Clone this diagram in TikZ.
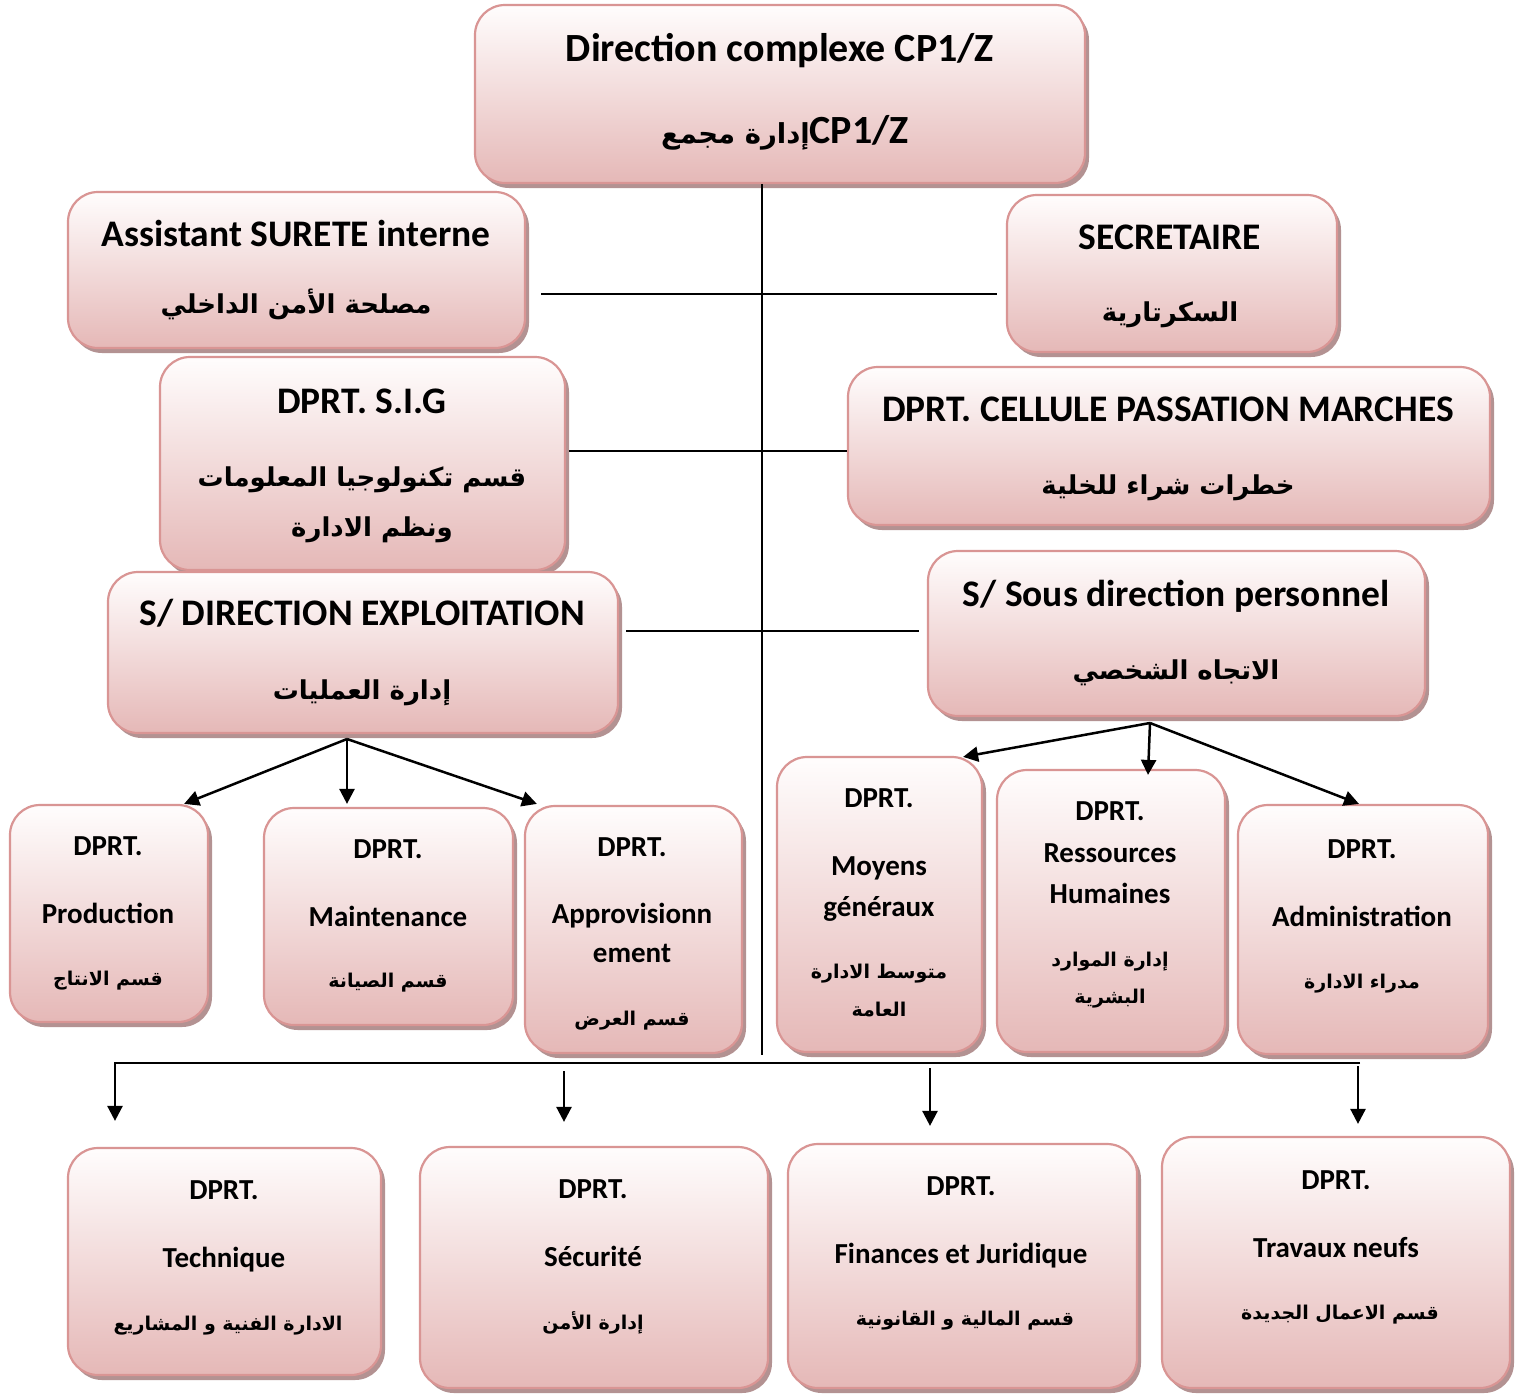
\documentclass[tikz,border=0pt]{standalone}
\usepackage{fontspec}
\setmainfont{Carlito}
\newfontfamily\arabicfont[Script=Arabic]{DejaVu Sans}
\TeXXeTstate=1
\usetikzlibrary{arrows.meta,shadows,calc}

\definecolor{boxline}{HTML}{D99594}
\definecolor{boxtop}{HTML}{FFFDFD}
\definecolor{boxbot}{HTML}{E5B8B7}
\definecolor{boxshadow}{HTML}{B39292}

\tikzset{
  box/.style={draw=boxline, line width=2.2pt, rounded corners=30pt,
    top color=boxtop, bottom color=boxbot, inner sep=0pt,
    drop shadow={shadow xshift=4pt, shadow yshift=-5pt, fill=boxshadow, opacity=1}},
  big/.style={font=\fontsize{37.5}{45}\selectfont\bfseries, anchor=mid, inner sep=0pt, yshift=-9pt},
  huge/.style={font=\fontsize{40}{48}\selectfont\bfseries, anchor=mid, inner sep=0pt, yshift=-9pt},
  small/.style={font=\fontsize{29}{35}\selectfont\bfseries, anchor=mid, inner sep=0pt, yshift=-8pt},
  arbig/.style={font=\fontsize{26}{31}\selectfont\bfseries\arabicfont, anchor=mid, inner sep=0pt, yshift=-9pt},
  arsmall/.style={font=\fontsize{19}{23}\selectfont\bfseries\arabicfont, anchor=mid, inner sep=0pt, yshift=-6pt},
  link/.style={line width=2.5pt},
  arr/.style={line width=2.5pt, -{Triangle[length=15pt,width=15pt]}}
}

\begin{document}
\begin{tikzpicture}[x=1pt, y=-1pt]
\useasboundingbox (0,0) rectangle (1521,1393);
\fill[white] (0,0) rectangle (1521,1393);

% ---------- boxes ----------
\node[box, minimum width=610, minimum height=178] (top)   at (780,94) {};
\node[box, minimum width=457, minimum height=156] (asst)  at (296.5,270) {};
\node[box, minimum width=330, minimum height=157] (sec)   at (1172,273.5) {};
\node[box, minimum width=405, minimum height=213] (sig)   at (362.5,463.5) {};
\node[box, minimum width=642, minimum height=158] (cell)  at (1169,446) {};
\node[box, minimum width=510, minimum height=161] (expl)  at (363,652.5) {};
\node[box, minimum width=497, minimum height=165] (pers)  at (1176.5,633.5) {};
\node[box, minimum width=198, minimum height=217] (prod)  at (109,913.5) {};
\node[box, minimum width=249, minimum height=217] (maint) at (388.5,916.5) {};
\node[box, minimum width=217, minimum height=247] (appro) at (633.5,929.5) {};
\node[box, minimum width=205, minimum height=295] (moy)   at (879.5,904.5) {};
\node[box, minimum width=228, minimum height=282] (rh)    at (1111,911) {};
\node[box, minimum width=250, minimum height=249] (adm)   at (1363,929.5) {};
\node[box, minimum width=313, minimum height=227] (tech)  at (224.5,1261.5) {};
\node[box, minimum width=348, minimum height=241] (secu)  at (594,1267.5) {};
\node[box, minimum width=349, minimum height=244] (fin)   at (962.5,1266) {};
\node[box, minimum width=348, minimum height=251] (trav)  at (1336,1262.5) {};

% ---------- texts ----------
\node[huge] (topA) at (780,50) {Direction complexe CP1/Z};
\node[huge] (topB) at (785,132) {{\fontsize{27.5}{33}\selectfont\arabicfont\beginR إدارة مجمع\endR}CP1/Z};

\node[big] (asstA) at (296,235) {Assistant SURETE interne};
\node[arbig] (asstB) at (296,302) {\beginR مصلحة الأمن الداخلي\endR};

\node[big] (secA) at (1170,238) {SECRETAIRE};
\node[arbig] (secB) at (1170,310) {\beginR السكرتارية\endR};

\node[big] (sigA) at (362,402) {DPRT. S.I.G};
\node[arbig] (sigB) at (362,475) {\beginR قسم تكنولوجيا المعلومات\endR};
\node[arbig] (sigC) at (372,525) {\beginR ونظم الادارة\endR};

\node[big] (cellA) at (1168,410) {DPRT. CELLULE PASSATION MARCHES};
\node[arbig] (cellB) at (1168,483) {\beginR خطرات شراء للخلية\endR};

\node[big] (explA) at (362,614) {S/ DIRECTION EXPLOITATION};
\node[arbig] (explB) at (362,688) {\beginR إدارة العمليات\endR};

\node[big] (persA) at (1176,595) {S/ Sous direction personnel};
\node[arbig] (persB) at (1176,668) {\beginR الاتجاه الشخصي\endR};

\node[small] (prodA) at (108,845) {DPRT.};
\node[small] (prodB) at (108,913) {Production};
\node[arsmall] (prodC) at (108,977) {\beginR قسم الانتاج\endR};

\node[small] (maintA) at (388,848) {DPRT.};
\node[small] (maintB) at (388,916) {Maintenance};
\node[arsmall] (maintC) at (388,979) {\beginR قسم الصيانة\endR};

\node[small] (approA) at (632,846) {DPRT.};
\node[small] (approB) at (632,913) {Approvisionn};
\node[small] (approC) at (632,952) {ement};
\node[arsmall] (approD) at (632,1017) {\beginR قسم العرض\endR};

\node[small] (moyA) at (879,797) {DPRT.};
\node[small] (moyB) at (879,865) {Moyens};
\node[small] (moyC) at (879,906) {généraux};
\node[arsmall] (moyD) at (879,970) {\beginR متوسط الادارة\endR};
\node[arsmall] (moyE) at (879,1008) {\beginR العامة\endR};

\node[small] (rhA) at (1110,810) {DPRT.};
\node[small] (rhB) at (1110,852) {Ressources};
\node[small] (rhC) at (1110,893) {Humaines};
\node[arsmall] (rhD) at (1110,958) {\beginR إدارة الموارد\endR};
\node[arsmall] (rhE) at (1110,995) {\beginR البشرية\endR};

\node[small] (admA) at (1362,848) {DPRT.};
\node[small] (admB) at (1362,916) {Administration};
\node[arsmall] (admC) at (1362,980) {\beginR مدراء الادارة\endR};

\node[small] (techA) at (224,1189) {DPRT.};
\node[small] (techB) at (224,1257) {Technique};
\node[arsmall] (techC) at (228,1322) {\beginR الادارة الفنية و المشاريع\endR};

\node[small] (secuA) at (593,1188) {DPRT.};
\node[small] (secuB) at (593,1256) {Sécurité};
\node[arsmall] (secuC) at (593,1321) {\beginR إدارة الأمن\endR};

\node[small] (finA) at (961,1185) {DPRT.};
\node[small] (finB) at (961,1253) {Finances et Juridique};
\node[arsmall] (finC) at (965,1317) {\beginR قسم المالية و القانونية\endR};

\node[small] (travA) at (1336,1179) {DPRT.};
\node[small] (travB) at (1336,1247) {Travaux neufs};
\node[arsmall] (travC) at (1340,1311) {\beginR قسم الاعمال الجديدة\endR};

% ---------- connectors ----------
\coordinate (trunk) at (762,1055);
\draw[link] (top.south -| trunk) -- (trunk);

\coordinate (r1) at (0,294);
\draw[link] ([xshift=15pt]asst.east |- r1) -- ([xshift=-9pt]sec.west |- r1);
\coordinate (r2) at (0,451);
\draw[link] ([xshift=3pt]sig.east |- r2) -- (cell.west |- r2);
\coordinate (r3) at (0,631);
\draw[link] ([xshift=7pt]expl.east |- r3) -- ([xshift=-8pt]pers.west |- r3);

% exploitation departments
\coordinate (ef) at (347,739);
\draw[arr] (ef) -- ($(prod.north east)+(-25,0)$);
\draw[arr] (ef) -- ($(maint.north)+(-41.5,-3)$);
\draw[arr] (ef) -- ($(appro.north west)+(13,-1)$);

% personnel departments
\coordinate (pf) at (1150,723);
\draw[arr] (pf) -- ($(moy.north east)+(-20,1)$);
\draw[arr] (pf) -- ($(rh.north)+(37,6)$);
\draw[arr] (pf) -- ($(adm.north)+(-4,0)$);

% bottom bus
\coordinate (busL) at (115,1063);
\coordinate (busR) at (1360,1063);
\draw[arr] (busR) -- (busL) -- ($(tech.north)+(-109.5,-26)$);
\coordinate (b2) at (564,1071);
\draw[arr] (b2) -- ($(secu.north)+(-30,-24)$);
\coordinate (b3) at (930,1068);
\draw[arr] (b3) -- ($(fin.north)+(-32.5,-17)$);
\coordinate (b4) at (1358,1066);
\draw[arr] (b4) -- ($(trav.north)+(22,-12)$);
\end{tikzpicture}
\end{document}
